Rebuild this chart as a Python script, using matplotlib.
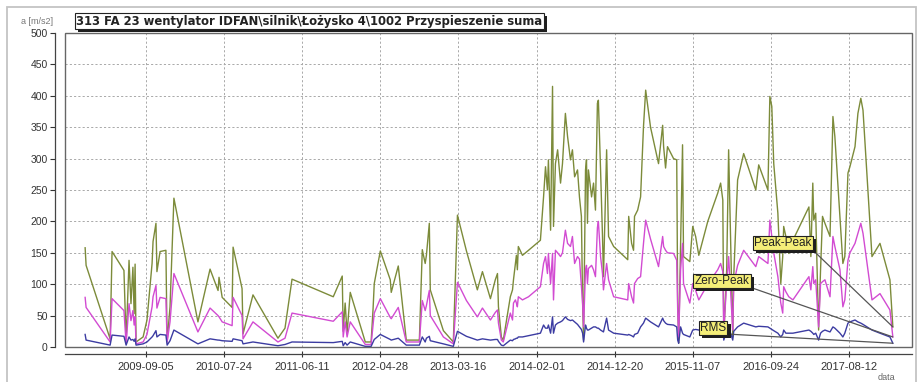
import matplotlib
matplotlib.use("Agg")
import matplotlib.pyplot as plt
import matplotlib.patheffects as pe
import pandas as pd
from matplotlib.patches import Rectangle

# Measurement dates and acceleration values [m/s2]
dates = [
    "2008-12-28", "2009-01-01", "2009-04-10", "2009-04-18", "2009-06-06", "2009-06-15",
    "2009-06-27", "2009-07-05", "2009-07-13", "2009-07-18", "2009-07-22", "2009-07-26",
    "2009-08-24", "2009-09-09", "2009-09-30", "2009-10-04", "2009-10-16", "2009-10-20",
    "2009-11-02", "2009-11-26", "2009-12-01", "2009-12-13", "2009-12-29", "2010-04-07",
    "2010-05-27", "2010-06-29", "2010-07-03", "2010-07-16", "2010-08-26", "2010-08-30",
    "2010-10-06", "2010-10-10", "2010-11-20", "2011-03-03", "2011-04-01", "2011-04-30",
    "2011-10-17", "2011-11-23", "2011-11-27", "2011-12-05", "2011-12-13", "2011-12-26",
    "2012-02-26", "2012-03-21", "2012-03-29", "2012-04-03", "2012-04-28", "2012-06-08",
    "2012-06-12", "2012-07-11", "2012-08-13", "2012-10-06", "2012-10-18", "2012-10-30",
    "2012-11-04", "2012-11-16", "2012-11-20", "2013-01-13", "2013-02-23", "2013-03-12",
    "2013-04-18", "2013-06-02", "2013-06-23", "2013-07-26", "2013-08-15", "2013-08-24",
    "2013-08-28", "2013-09-09", "2013-09-17", "2013-10-16", "2013-10-25", "2013-10-29",
    "2013-11-06", "2013-11-10", "2013-11-14", "2013-11-18", "2013-12-05", "2013-12-30",
    "2014-02-17", "2014-03-02", "2014-03-10", "2014-03-18", "2014-03-22", "2014-03-31",
    "2014-04-08", "2014-04-12", "2014-04-20", "2014-04-29", "2014-05-11", "2014-05-19",
    "2014-05-31", "2014-06-09", "2014-06-21", "2014-06-29", "2014-07-08", "2014-07-20",
    "2014-07-28", "2014-08-05", "2014-08-10", "2014-08-14", "2014-08-22", "2014-08-26",
    "2014-08-30", "2014-09-03", "2014-09-16", "2014-09-24", "2014-10-02", "2014-10-10",
    "2014-10-14", "2014-10-23", "2014-10-31", "2014-11-04", "2014-11-17", "2014-11-25",
    "2014-12-16", "2015-02-12", "2015-02-16", "2015-02-28", "2015-03-08", "2015-03-12",
    "2015-03-25", "2015-04-06", "2015-04-18", "2015-04-27", "2015-05-17", "2015-06-19",
    "2015-07-06", "2015-07-10", "2015-07-18", "2015-07-26", "2015-08-20", "2015-09-02",
    "2015-09-06", "2015-09-10", "2015-09-18", "2015-09-26", "2015-09-30", "2015-10-26",
    "2015-11-07", "2015-11-19", "2015-12-02", "2016-01-08", "2016-02-18", "2016-03-01",
    "2016-03-10", "2016-03-14", "2016-03-26", "2016-04-03", "2016-04-20", "2016-04-24",
    "2016-05-10", "2016-06-04", "2016-07-24", "2016-08-05", "2016-09-12", "2016-09-20",
    "2016-09-28", "2016-10-06", "2016-10-23", "2016-11-04", "2016-11-12", "2016-11-16",
    "2016-11-25", "2016-12-07", "2016-12-24", "2017-02-28", "2017-03-08", "2017-03-16",
    "2017-03-20", "2017-03-28", "2017-04-09", "2017-04-17", "2017-04-25", "2017-05-05",
    "2017-05-26", "2017-06-07", "2017-06-15", "2017-07-06", "2017-07-18", "2017-07-26",
    "2017-08-08", "2017-08-16", "2017-09-06", "2017-09-18", "2017-09-30", "2017-10-09",
    "2017-11-15", "2017-12-18", "2018-01-28", "2018-02-09",
]

peak_peak = [
    158, 130, 13, 152, 122, 8, 138, 69, 127, 53, 132, 8,
    16, 43, 133, 168, 197, 120, 152, 154, 8, 64, 237, 40,
    124, 90, 111, 79, 63, 159, 93, 21, 83, 14, 30, 108,
    80, 113, 25, 70, 22, 87, 8, 8, 60, 101, 153, 107,
    87, 129, 11, 11, 155, 133, 146, 197, 91, 26, 8, 210,
    153, 91, 120, 77, 107, 117, 64, 16, 11, 80, 91, 107,
    133, 146, 123, 160, 146, 154, 170, 239, 287, 250, 298, 186,
    415, 192, 292, 314, 261, 292, 372, 335, 298, 314, 271, 282,
    239, 208, 70, 11, 282, 298, 197, 282, 239, 261, 218, 388,
    393, 282, 176, 112, 314, 176, 160, 139, 208, 165, 154, 208,
    218, 239, 351, 409, 350, 292, 353, 319, 285, 319, 300, 298,
    70, 6, 165, 322, 144, 136, 192, 176, 146, 200, 245, 261,
    234, 16, 123, 314, 16, 112, 266, 308, 250, 290, 250, 399,
    383, 292, 213, 101, 144, 192, 176, 149, 170, 223, 144, 261,
    202, 213, 27, 123, 208, 197, 176, 367, 335, 208, 133, 144,
    277, 287, 319, 372, 396, 377, 144, 165, 107, 32,
]

zero_peak = [
    79, 63, 8, 77, 58, 5, 69, 42, 58, 35, 48, 5,
    8, 20, 64, 80, 98, 62, 79, 77, 8, 40, 117, 24,
    62, 50, 48, 40, 34, 79, 50, 13, 40, 8, 14, 54,
    41, 56, 16, 40, 16, 40, 4, 4, 35, 54, 77, 47,
    45, 63, 8, 8, 74, 58, 66, 90, 50, 16, 5, 103,
    74, 48, 62, 43, 55, 59, 38, 11, 8, 54, 43, 70,
    75, 70, 64, 80, 75, 80, 96, 133, 144, 117, 149, 101,
    149, 75, 154, 150, 144, 150, 186, 165, 160, 176, 133, 144,
    140, 96, 70, 32, 123, 130, 101, 125, 130, 123, 112, 190,
    200, 144, 117, 91, 133, 107, 80, 75, 101, 80, 70, 101,
    109, 112, 165, 202, 172, 128, 176, 160, 154, 150, 149, 138,
    59, 16, 123, 165, 101, 70, 101, 90, 75, 100, 123, 133,
    120, 27, 101, 144, 27, 101, 130, 154, 128, 144, 133, 202,
    176, 150, 112, 70, 54, 96, 88, 80, 75, 112, 91, 128,
    101, 107, 32, 101, 104, 107, 80, 176, 160, 123, 64, 75,
    138, 150, 165, 181, 197, 181, 75, 85, 59, 16,
]

rms = [
    20, 11, 3, 19, 17, 3, 16, 11, 12, 9, 13, 3,
    5, 8, 16, 18, 26, 16, 20, 19, 3, 10, 27, 5,
    13, 11, 11, 10, 9, 13, 10, 5, 8, 2, 4, 8,
    7, 9, 2, 7, 3, 8, 1, 1, 8, 12, 20, 12,
    11, 14, 3, 3, 16, 8, 14, 17, 10, 5, 1, 25,
    17, 11, 13, 11, 12, 12, 9, 3, 2, 11, 10, 12,
    13, 14, 14, 16, 16, 18, 22, 35, 30, 30, 35, 22,
    48, 22, 35, 38, 40, 42, 48, 44, 42, 43, 40, 36,
    32, 28, 22, 8, 35, 30, 27, 27, 30, 32, 32, 30,
    30, 27, 25, 24, 46, 27, 22, 19, 20, 18, 16, 20,
    22, 32, 38, 46, 40, 32, 46, 42, 38, 36, 35, 32,
    11, 6, 32, 22, 20, 16, 27, 28, 27, 27, 33, 38,
    35, 11, 25, 32, 11, 25, 32, 38, 32, 33, 32, 30,
    28, 26, 22, 16, 20, 27, 22, 22, 22, 27, 25, 22,
    20, 22, 11, 22, 25, 27, 24, 32, 30, 22, 16, 22,
    38, 40, 43, 40, 38, 36, 27, 22, 16, 6,
]

tick_dates = ["2009-09-05", "2010-07-24", "2011-06-11", "2012-04-28", "2013-03-16",
              "2014-02-01", "2014-12-20", "2015-11-07", "2016-09-24", "2017-08-12"]
y_ticks = list(range(0, 501, 50))

series_names = ["Peak-Peak", "Zero-Peak", "RMS"]
title = "313 FA 23 wentylator IDFAN\\silnik\\Łożysko 4\\1002 Przyspieszenie suma"
unit = "a [m/s2]"
x_name = "data"

plt.rcParams["font.family"] = ["Liberation Sans", "DejaVu Sans"]

W, H = 923, 382
fig = plt.figure(figsize=(W / 100, H / 100), dpi=100)
ax = fig.add_axes([65 / W, 35 / H, 847 / W, 314 / H])

t = pd.to_datetime(dates)
c_pp, c_zp, c_rms = "#7c8b3a", "#d24bd2", "#3c3ca2"
ax.plot(t, peak_peak, color=c_pp, lw=1.0, zorder=3)
ax.plot(t, zero_peak, color=c_zp, lw=1.0, zorder=3)
ax.plot(t, rms, color=c_rms, lw=1.0, zorder=3)

ax.set_xlim(pd.Timestamp("2008-10-06"), pd.Timestamp("2018-04-29"))
ax.set_ylim(0, 500)
ax.set_xticks(pd.to_datetime(tick_dates))
ax.set_xticklabels(tick_dates)
ax.set_yticks(y_ticks)

ax.grid(True, linestyle=(0, (2.2, 2.2)), color="#a9a9a9", lw=0.7, zorder=1)

# detached axis lines, plot frame drawn separately
for s in ("top", "right"):
    ax.spines[s].set_visible(False)
ax.spines["left"].set_position(("outward", 7))
ax.spines["bottom"].set_position(("outward", 5))
for s in ("left", "bottom"):
    ax.spines[s].set_color("#444444")
    ax.spines[s].set_linewidth(0.9)
ax.add_patch(Rectangle((0, 0), 1, 1, transform=ax.transAxes, fill=False,
                       ec="#666666", lw=1.0, zorder=4, clip_on=False))

ax.tick_params(axis="y", direction="out", length=3.5, width=0.8, labelsize=7.5,
               colors="#333333", pad=2)
ax.tick_params(axis="x", direction="inout", length=4, width=0.8, labelsize=8,
               colors="#333333", pad=4)

shadow = [pe.SimplePatchShadow(offset=(2.2, -2.2), shadow_rgbFace="#1e1e1e", alpha=1.0),
          pe.Normal()]

# labels for the series, boxed with a dark drop shadow
label_pos = {"Peak-Peak": (783, 139), "Zero-Peak": (722, 101), "RMS": (713, 54)}
last = {"Peak-Peak": peak_peak[-1], "Zero-Peak": zero_peak[-1], "RMS": rms[-1]}
for name in series_names:
    cx, cy = label_pos[name]
    a = ax.annotate(name, xy=(t[-1], last[name]), xytext=(cx, cy),
                    textcoords="figure pixels", ha="center", va="center",
                    fontsize=8.5, color="#222222",
                    bbox=dict(boxstyle="square,pad=0.12", fc="#f4ee78", ec="#222222", lw=0.8),
                    arrowprops=dict(arrowstyle="-", color="#555555", lw=0.9,
                                    relpos=(1, 0), shrinkA=0, shrinkB=0),
                    zorder=7)
    a.get_bbox_patch().set_path_effects(shadow)

# header: unit and boxed channel name
fig.text(21 / W, 1 - 21 / H, unit, fontsize=6.5, color="#777777", va="center")
tt = fig.text(76 / W, 1 - 21 / H, title, fontsize=8.4, fontweight="bold",
              family=["DejaVu Sans"], color="#222222", va="center",
              bbox=dict(boxstyle="square,pad=0.12", fc="white", ec="#222222", lw=0.8))
tt.get_bbox_patch().set_path_effects(shadow)

fig.text(878 / W, 1 - 377 / H, x_name, fontsize=6.5, color="#666666", va="center")

# outer panel border
fig.patches.append(Rectangle((7 / W, -0.05), 909 / W, 1.05 - 7 / H,
                             transform=fig.transFigure, fill=False,
                             ec="#c4c4c4", lw=1.3))

fig.savefig("out.png", dpi=100)
